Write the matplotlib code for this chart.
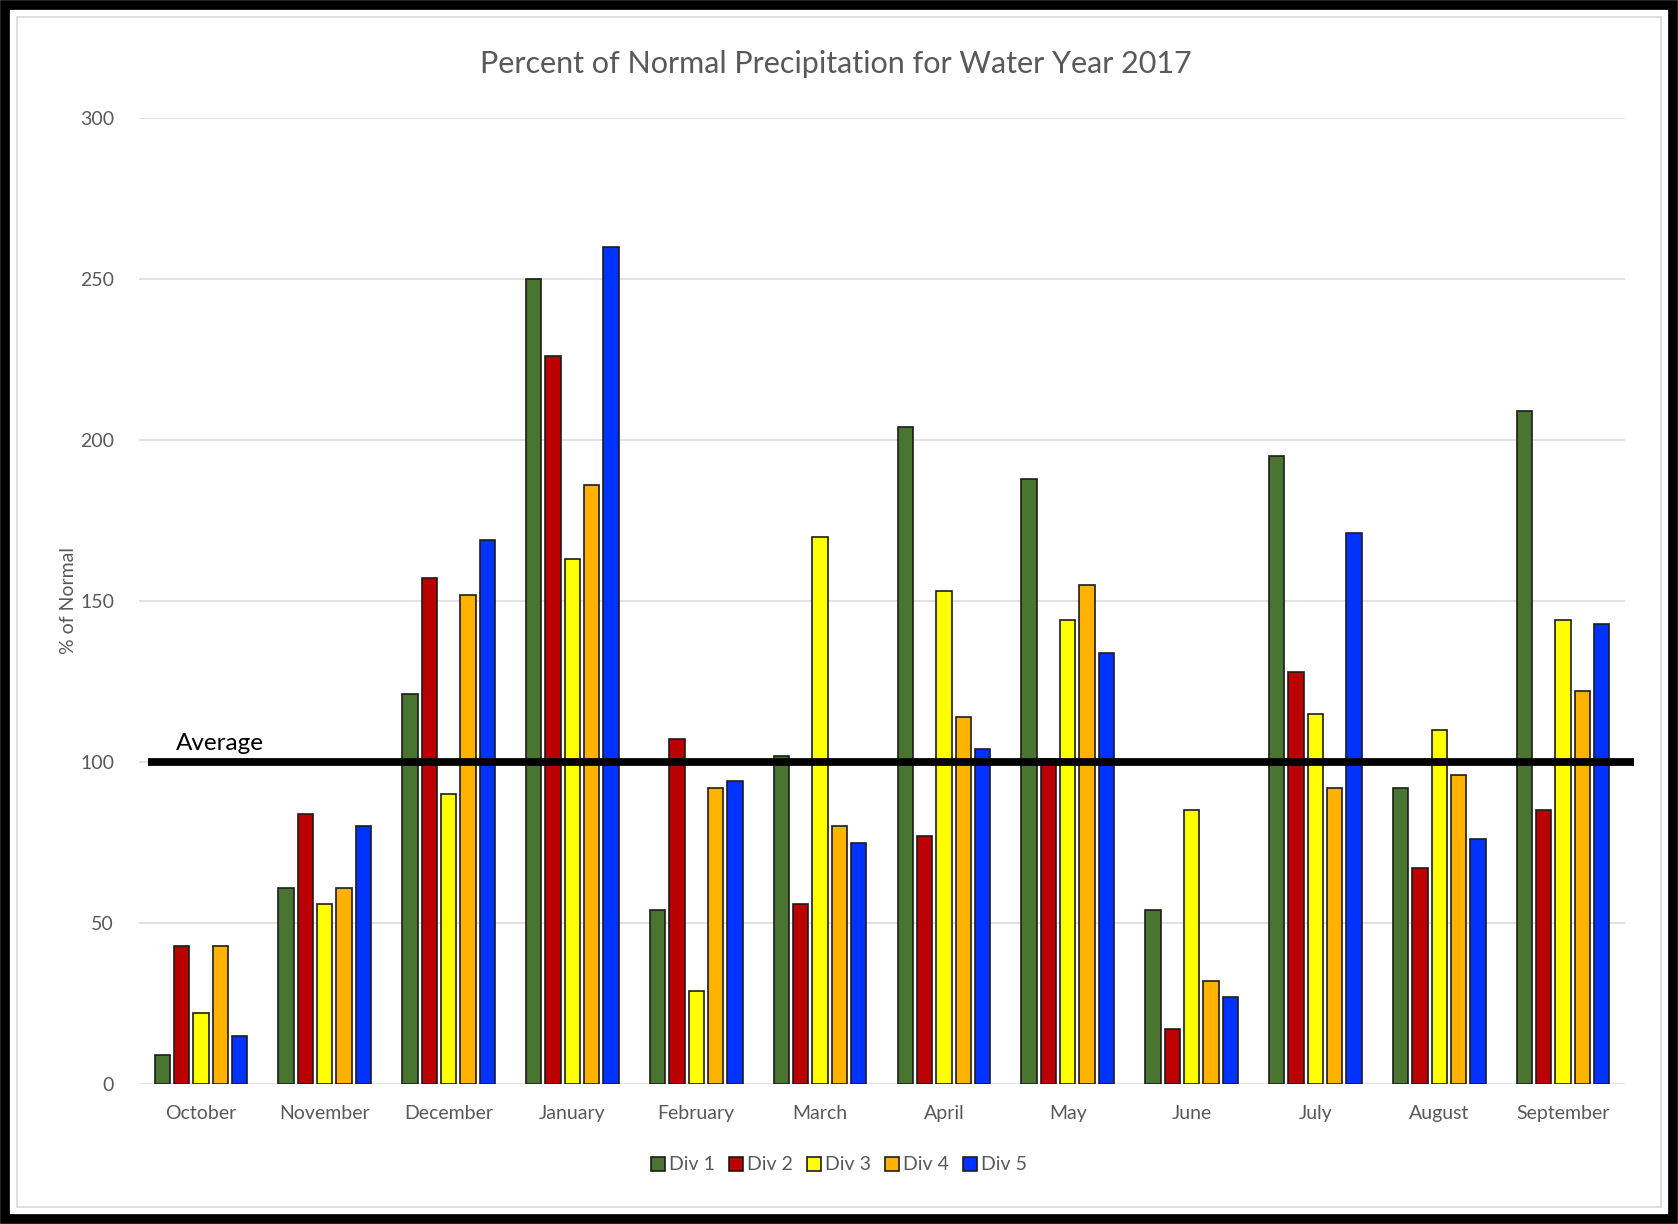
import numpy as np
import matplotlib.pyplot as plt
from matplotlib.patches import Rectangle
from matplotlib.transforms import blended_transform_factory

plt.rcParams['font.family'] = ['Lato', 'DejaVu Sans']

# data
months = ['October', 'November', 'December', 'January', 'February', 'March',
          'April', 'May', 'June', 'July', 'August', 'September']
div1 = [9, 61, 121, 250, 54, 102, 204, 188, 54, 195, 92, 209]
div2 = [43, 84, 157, 226, 107, 56, 77, 101, 17, 128, 67, 85]
div3 = [22, 56, 90, 163, 29, 170, 153, 144, 85, 115, 110, 144]
div4 = [43, 61, 152, 186, 92, 80, 114, 155, 32, 92, 96, 122]
div5 = [15, 80, 169, 260, 94, 75, 104, 134, 27, 171, 76, 143]
series_names = ['Div 1', 'Div 2', 'Div 3', 'Div 4', 'Div 5']
average = 100

colors = ['#4a7530', '#bb0000', '#ffff00', '#ffb300', '#0033ff']
grey = '#595959'

W, H = 1678, 1224
fig = plt.figure(figsize=(W / 100, H / 100), dpi=100)
ax = fig.add_axes([139 / W, 1 - 1084 / H, (1625 - 139) / W, (1084 - 118) / H])

x = np.arange(len(months))
slot = 0.156
width = 0.124
for i, (vals, name, c) in enumerate(zip([div1, div2, div3, div4, div5], series_names, colors)):
    ax.bar(x + (i - 2) * slot, vals, width, color=c, edgecolor='#1c1c1c',
           linewidth=1.2, label=name, zorder=2)

ax.set_xlim(-0.5, len(months) - 0.5)
ax.set_ylim(0, 300)
ax.set_yticks(range(0, 301, 50))
ax.yaxis.grid(True, color='#d9d9d9', linewidth=1.1, zorder=0)
ax.set_axisbelow(True)
for s in ax.spines.values():
    s.set_visible(False)
ax.tick_params(length=0, labelsize=14, labelcolor=grey)
ax.tick_params(axis='y', pad=18)
ax.tick_params(axis='x', pad=15)
ax.set_xticks(x)
ax.set_xticklabels(months)

# hand-drawn average line
tr = blended_transform_factory(ax.transAxes, ax.transData)
ax.plot([0.006, 1.006], [average, average], color='black', linewidth=5.6,
        transform=tr, clip_on=False, zorder=3, solid_capstyle='butt')
ax.text(0.025, average + 3.6, 'Average', transform=tr, fontsize=17.5,
        color='black', va='baseline', ha='left')

ax.set_ylabel('% of Normal', fontsize=14, color=grey)
ax.yaxis.set_label_coords(-(139 - 77) / (1625 - 139), 0.5)

fig.text(0.498, 1 - 64 / H, 'Percent of Normal Precipitation for Water Year 2017',
         ha='center', va='center', fontsize=22, color=grey)

fig.legend(loc='center', bbox_to_anchor=(0.5, 1 - 1165 / H), ncol=5, frameon=False,
           fontsize=14, labelcolor=grey, handlelength=0.7, handleheight=0.7,
           handletextpad=0.2, columnspacing=0.75)

# frame around the picture
fig.patches.append(Rectangle((17 / W, 17 / H), 1 - 34 / W, 1 - 34 / H, transform=fig.transFigure,
                             fill=False, edgecolor='#d9d9d9', linewidth=1.2))
fig.patches.append(Rectangle((5 / W, 5 / H), 1 - 10 / W, 1 - 10 / H, transform=fig.transFigure,
                             fill=False, edgecolor='black', linewidth=7))

fig.savefig('out.png', dpi=100)
